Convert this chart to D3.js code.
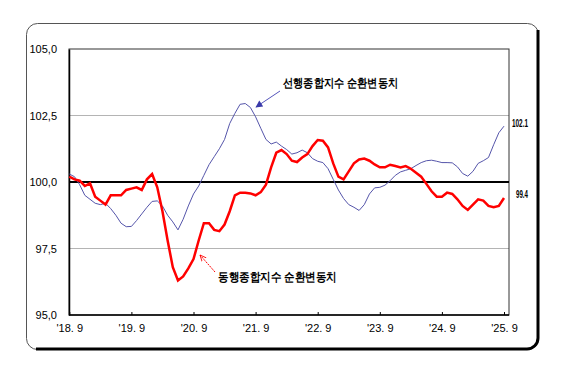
<!DOCTYPE html>
<html lang="ko">
<head>
  <meta charset="UTF-8">
  <title>경기종합지수 순환변동치</title>
  <script src="https://d3js.org/d3.v7.min.js"></script>
  <style>
    body { margin: 0; background: #fff; }
    text { font-family: "Liberation Sans", Arial, sans-serif; }
  </style>
</head>
<body>
  <div id="chart"></div>
  <script>
    // monthly data, 2018.9 ~ 2025.9
    const tickLabels = ["'18. 9", "'19. 9", "'20. 9", "'21. 9", "'22. 9", "'23. 9", "'24. 9", "'25. 9"];
    const yTicks = [95, 97.5, 100, 102.5, 105];
    const yTickLabels = ["95,0", "97,5", "100,0", "102,5", "105,0"];

    // 선행종합지수 순환변동치
    const leading = [
      100.3, 100.2, 99.9, 99.5, 99.35, 99.2, 99.15, 99.2, 99.0, 98.75,
      98.45, 98.32, 98.33, 98.55, 98.8, 99.05, 99.27, 99.29, 99.1, 98.75,
      98.5, 98.2, 98.6, 99.1, 99.55, 99.85, 100.25, 100.65, 100.95, 101.25,
      101.6, 102.2, 102.58, 102.92, 102.95, 102.8, 102.45, 102.02, 101.6, 101.43,
      101.5, 101.35, 101.22, 101.05, 101.1, 101.2, 101.1, 100.88, 100.78, 100.73,
      100.5, 100.1, 99.7, 99.38, 99.15, 99.05, 98.93, 99.15, 99.55, 99.78,
      99.8, 99.88, 100.05, 100.25, 100.38, 100.44, 100.5, 100.62, 100.73, 100.8,
      100.82, 100.78, 100.73, 100.73, 100.72, 100.57, 100.32, 100.22, 100.4, 100.7,
      100.8, 100.92, 101.4, 101.85, 102.1
    ];

    // 동행종합지수 순환변동치
    const coincident = [
      100.2, 100.1, 100.05, 99.85, 99.95, 99.45, 99.3, 99.15, 99.5, 99.5,
      99.5, 99.7, 99.75, 99.8, 99.7, 100.1, 100.3, 99.8, 98.9, 97.8,
      96.8, 96.3, 96.45, 96.75, 97.1, 97.8, 98.45, 98.45, 98.2, 98.15,
      98.4, 98.9, 99.5, 99.6, 99.6, 99.57, 99.5, 99.62, 99.9, 100.55,
      101.1, 101.2, 101.05, 100.8, 100.75, 100.92, 101.05, 101.35, 101.58, 101.55,
      101.3, 100.7, 100.2, 100.1, 100.4, 100.7, 100.85, 100.88, 100.8, 100.66,
      100.55, 100.55, 100.65, 100.6, 100.55, 100.6, 100.5, 100.35, 100.2, 99.93,
      99.65, 99.45, 99.45, 99.6, 99.55, 99.35, 99.1, 98.95, 99.15, 99.35,
      99.3, 99.1, 99.05, 99.1, 99.4
    ];

    const width = 565, height = 371;
    const svg = d3.select('#chart')
      .append('svg')
      .attr('width', width)
      .attr('height', height);

    // outer rounded frame
    svg.append('rect')
      .attr('x', 26.5).attr('y', 23.5)
      .attr('width', 512).attr('height', 326)
      .attr('rx', 11).attr('ry', 11)
      .attr('fill', 'none')
      .attr('stroke', '#555')
      .attr('stroke-width', 1);
    svg.append('path')
      .attr('d', 'M538,30 L538,338 A11,11 0 0 1 527,349 L36,349')
      .attr('fill', 'none')
      .attr('stroke', '#000')
      .attr('stroke-width', 3);

    const x = d3.scaleLinear().domain([0, leading.length - 1]).range([69.3, 504]);
    const y = d3.scaleLinear().domain([95, 105]).range([315, 49]);
    const plotRight = 509;

    // gridlines
    svg.selectAll('.grid')
      .data([97.5, 102.5])
      .enter()
      .append('line')
      .attr('x1', 69).attr('x2', plotRight)
      .attr('y1', d => y(d)).attr('y2', d => y(d))
      .attr('stroke', '#b4b4b4')
      .attr('stroke-width', 1);

    // plot box
    svg.append('rect')
      .attr('x', 69).attr('y', y(105))
      .attr('width', plotRight - 69).attr('height', y(95) - y(105))
      .attr('fill', 'none')
      .attr('stroke', '#333')
      .attr('stroke-width', 1);

    // y axis
    const yAxis = d3.axisLeft(y)
      .tickValues(yTicks)
      .tickSize(0)
      .tickPadding(12)
      .tickFormat((d, i) => yTickLabels[i]);
    svg.append('g')
      .attr('transform', 'translate(69,0)')
      .call(yAxis)
      .call(g => g.select('.domain').attr('stroke', '#000').attr('stroke-width', 1.5))
      .call(g => g.selectAll('text').attr('font-size', 11).attr('fill', '#000'));

    // x axis
    const xAxis = d3.axisBottom(x)
      .tickValues(d3.range(0, leading.length, 12))
      .tickSize(-3)
      .tickPadding(9)
      .tickFormat((d, i) => tickLabels[i]);
    svg.append('g')
      .attr('transform', `translate(0,${y(95)})`)
      .call(xAxis)
      .call(g => g.select('.domain').attr('d', `M69,0H${plotRight}`).attr('stroke', '#000').attr('stroke-width', 1.5))
      .call(g => g.selectAll('.tick line').attr('stroke', '#000'))
      .call(g => g.selectAll('text').attr('font-size', 11).attr('fill', '#000'));

    // 100 baseline
    svg.append('line')
      .attr('x1', 69).attr('x2', plotRight)
      .attr('y1', y(100)).attr('y2', y(100))
      .attr('stroke', '#000')
      .attr('stroke-width', 2);

    const line = d3.line()
      .x((d, i) => x(i))
      .y(d => y(d));

    svg.append('path')
      .datum(leading)
      .attr('d', line)
      .attr('fill', 'none')
      .attr('stroke', '#5555aa')
      .attr('stroke-width', 1);

    svg.append('path')
      .datum(coincident)
      .attr('d', line)
      .attr('fill', 'none')
      .attr('stroke', '#ff0000')
      .attr('stroke-width', 2.5)
      .attr('stroke-linejoin', 'miter');

    // last values
    const last = leading.length - 1;
    svg.append('text')
      .attr('x', 512).attr('y', y(leading[last]) + 1)
      .attr('font-family', 'Liberation Serif')
      .attr('font-weight', 'bold')
      .attr('font-size', 10)
      .attr('textLength', 16)
      .attr('lengthAdjust', 'spacingAndGlyphs')
      .text(leading[last].toFixed(1));
    svg.append('text')
      .attr('x', 516).attr('y', y(coincident[last]) + 0)
      .attr('font-family', 'Liberation Serif')
      .attr('font-weight', 'bold')
      .attr('font-size', 10)
      .attr('textLength', 12)
      .attr('lengthAdjust', 'spacingAndGlyphs')
      .text(coincident[last].toFixed(1));

    // annotations
    const defs = svg.append('defs');
    defs.append('marker')
      .attr('id', 'headBlue')
      .attr('viewBox', '0 0 10 10')
      .attr('refX', 9).attr('refY', 5)
      .attr('markerWidth', 9).attr('markerHeight', 7)
      .attr('markerUnits', 'userSpaceOnUse')
      .attr('orient', 'auto')
      .append('path')
      .attr('d', 'M0,0 L10,5 L0,10 z')
      .attr('fill', '#3a3aaa');
    defs.append('marker')
      .attr('id', 'headRed')
      .attr('viewBox', '0 0 10 10')
      .attr('refX', 9).attr('refY', 5)
      .attr('markerWidth', 7).attr('markerHeight', 7)
      .attr('markerUnits', 'userSpaceOnUse')
      .attr('orient', 'auto')
      .append('path')
      .attr('d', 'M0,1 L9,5 L0,9')
      .attr('fill', 'none')
      .attr('stroke', '#ff0000')
      .attr('stroke-width', 1.2);

    svg.append('line')
      .attr('x1', 280).attr('y1', 91)
      .attr('x2', 256).attr('y2', 107)
      .attr('stroke', '#5555bb')
      .attr('stroke-width', 1)
      .attr('marker-end', 'url(#headBlue)');

    svg.append('line')
      .attr('x1', 215).attr('y1', 272)
      .attr('x2', 200).attr('y2', 255)
      .attr('stroke', '#ff0000')
      .attr('stroke-width', 1)
      .attr('stroke-dasharray', '2,1')
      .attr('marker-end', 'url(#headRed)');

    svg.append('text')
      .attr('x', 283).attr('y', 87)
      .attr('font-family', '"Noto Sans CJK KR", sans-serif')
      .attr('font-weight', 'bold')
      .attr('font-size', 12)
      .attr('textLength', 115)
      .attr('lengthAdjust', 'spacingAndGlyphs')
      .text('선행종합지수 순환변동치');

    svg.append('text')
      .attr('x', 218).attr('y', 281)
      .attr('font-family', '"Noto Sans CJK KR", sans-serif')
      .attr('font-weight', 'bold')
      .attr('font-size', 12)
      .attr('textLength', 119)
      .attr('lengthAdjust', 'spacingAndGlyphs')
      .text('동행종합지수 순환변동치');
  </script>
</body>
</html>
